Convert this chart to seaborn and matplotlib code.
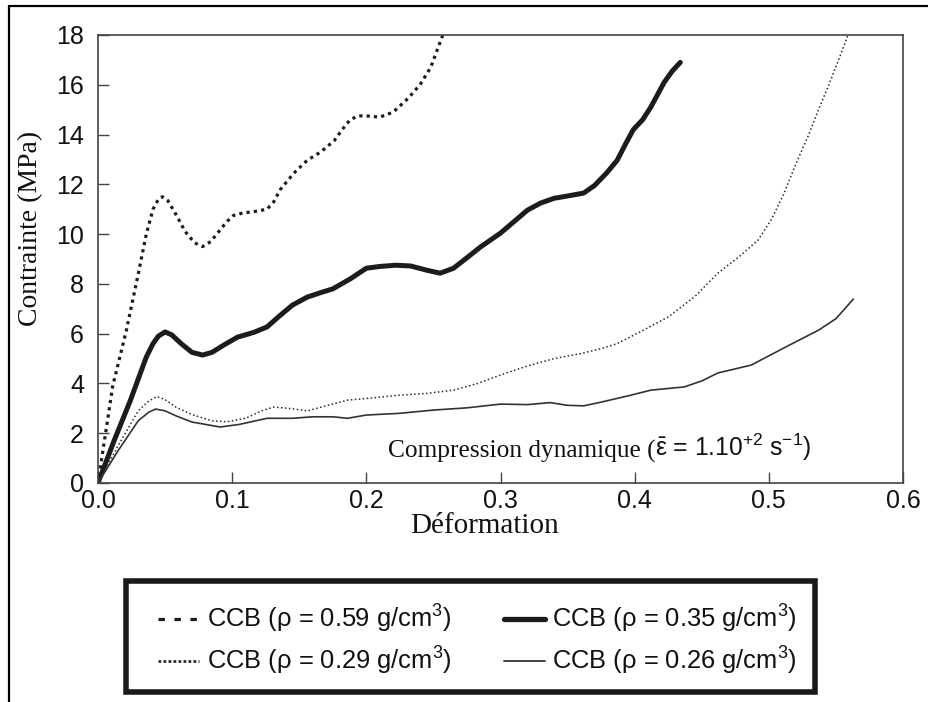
"""Stress-strain curves of CCB foams under dynamic compression."""

import matplotlib

matplotlib.use("Agg")

import matplotlib.pyplot as plt
import pandas as pd
import seaborn as sns
from matplotlib.lines import Line2D
from matplotlib.patches import Rectangle

# --- data ----------------------------------------------------------------
strain_059 = [0, 0.011, 0.021, 0.030, 0.036, 0.041, 0.045, 0.048, 0.052, 0.058,
              0.065, 0.072, 0.078, 0.084, 0.090, 0.096, 0.101, 0.108, 0.116,
              0.126, 0.131, 0.136, 0.146, 0.156, 0.166, 0.176, 0.182, 0.188,
              0.194, 0.200, 0.210, 0.220, 0.231, 0.240, 0.248, 0.257]
stress_059 = [0, 3.9, 6.1, 8.4, 10.0, 11.0, 11.4, 11.5, 11.35, 10.8,
              10.1, 9.65, 9.5, 9.7, 10.1, 10.5, 10.75, 10.85, 10.9,
              11.0, 11.3, 11.8, 12.45, 12.97, 13.3, 13.75, 14.2, 14.6,
              14.75, 14.75, 14.7, 14.9, 15.45, 16.0, 16.7, 18.0]

strain_035 = [0, 0.012, 0.024, 0.036, 0.041, 0.045, 0.050, 0.055, 0.062, 0.070,
              0.078, 0.085, 0.094, 0.104, 0.116, 0.126, 0.135, 0.145, 0.156,
              0.166, 0.175, 0.188, 0.200, 0.210, 0.222, 0.233, 0.245, 0.255,
              0.265, 0.275, 0.285, 0.300, 0.320, 0.330, 0.340, 0.352, 0.362,
              0.370, 0.379, 0.387, 0.393, 0.399, 0.406, 0.412, 0.422, 0.428,
              0.434]
stress_035 = [0, 1.7, 3.3, 5.06, 5.6, 5.9, 6.07, 5.95, 5.6, 5.25,
              5.14, 5.25, 5.55, 5.86, 6.05, 6.27, 6.7, 7.15, 7.47,
              7.65, 7.8, 8.2, 8.63, 8.7, 8.75, 8.72, 8.55, 8.43,
              8.63, 9.05, 9.48, 10.04, 10.96, 11.25, 11.44, 11.55, 11.65,
              11.95, 12.45, 12.97, 13.6, 14.2, 14.6, 15.1, 16.1, 16.55,
              16.9]

strain_029 = [0, 0.015, 0.030, 0.038, 0.044, 0.050, 0.058, 0.070, 0.085, 0.096,
              0.110, 0.122, 0.131, 0.142, 0.156, 0.170, 0.186, 0.205, 0.225,
              0.245, 0.265, 0.283, 0.300, 0.320, 0.340, 0.360, 0.375, 0.387,
              0.405, 0.425, 0.445, 0.462, 0.478, 0.492, 0.502, 0.511, 0.520,
              0.529, 0.537, 0.544, 0.552, 0.559]
stress_029 = [0, 1.5, 2.9, 3.3, 3.47, 3.35, 3.05, 2.75, 2.5, 2.46,
              2.6, 2.9, 3.05, 3.0, 2.9, 3.1, 3.33, 3.42, 3.53,
              3.6, 3.73, 4.0, 4.34, 4.7, 5.0, 5.2, 5.4, 5.6,
              6.1, 6.67, 7.5, 8.43, 9.1, 9.76, 10.6, 11.6, 12.8,
              13.9, 15.0, 15.9, 17.0, 18.0]

strain_026 = [0, 0.015, 0.030, 0.038, 0.043, 0.050, 0.058, 0.070, 0.091, 0.105,
              0.126, 0.145, 0.160, 0.175, 0.186, 0.200, 0.225, 0.250, 0.275,
              0.300, 0.320, 0.337, 0.350, 0.362, 0.375, 0.395, 0.412, 0.437,
              0.450, 0.462, 0.487, 0.511, 0.537, 0.550, 0.563]
stress_026 = [0, 1.3, 2.5, 2.85, 2.97, 2.9, 2.7, 2.45, 2.25, 2.35,
              2.6, 2.6, 2.66, 2.66, 2.6, 2.73, 2.8, 2.93, 3.02,
              3.17, 3.15, 3.23, 3.12, 3.1, 3.25, 3.5, 3.73, 3.86,
              4.1, 4.42, 4.74, 5.42, 6.14, 6.6, 7.39]

labels = [
    "CCB (ρ = 0.59 g/cm$^3$)",
    "CCB (ρ = 0.35 g/cm$^3$)",
    "CCB (ρ = 0.29 g/cm$^3$)",
    "CCB (ρ = 0.26 g/cm$^3$)",
]
x_ticks = [0.0, 0.1, 0.2, 0.3, 0.4, 0.5, 0.6]
y_ticks = [0, 2, 4, 6, 8, 10, 12, 14, 16, 18]

curves = [
    (strain_059, stress_059),
    (strain_035, stress_035),
    (strain_029, stress_029),
    (strain_026, stress_026),
]
# line look in the plot, and in the legend box
plot_styles = [
    dict(color="#1c1c1c", lw=2.3, ls=(0, (1.0, 1.3))),
    dict(color="#1c1c1c", lw=3.6, ls="-"),
    dict(color="#2a2a2a", lw=1.1, ls=(0, (1.0, 1.6))),
    dict(color="#333333", lw=1.2, ls="-"),
]
legend_styles = [
    dict(color="#1c1c1c", lw=2.3, ls=(0, (2.0, 3.0))),
    dict(color="#1c1c1c", lw=3.8, ls="-"),
    dict(color="#2a2a2a", lw=2.0, ls=(0, (1.0, 0.8))),
    dict(color="#333333", lw=1.3, ls="-"),
]

sns.set_style("ticks")
plt.rcParams["font.family"] = ["Liberation Sans", "DejaVu Sans"]
plt.rcParams["mathtext.fontset"] = "custom"
plt.rcParams["mathtext.rm"] = "Liberation Sans"
plt.rcParams["mathtext.it"] = "Liberation Sans:italic"
plt.rcParams["mathtext.bf"] = "Liberation Sans:bold"

SERIF = ["Liberation Serif", "DejaVu Serif"]
SPINE = "#444444"
INK = "#111111"

fig = plt.figure(figsize=(9.29, 7.02), dpi=100)
ax = fig.add_axes([98 / 929, 1 - 483 / 702, 805 / 929, 448 / 702])

for (xs, ys), style in zip(curves, plot_styles):
    frame = pd.DataFrame({"strain": xs, "stress": ys})
    sns.lineplot(data=frame, x="strain", y="stress", ax=ax, sort=False,
                 estimator=None, color=style["color"], linewidth=style["lw"],
                 linestyle=style["ls"], legend=False,
                 solid_joinstyle="round", solid_capstyle="round")

ax.set_xlim(0, 0.6)
ax.set_ylim(0, 18)
ax.set_xticks(x_ticks)
ax.set_xticklabels([f"{v:.1f}" for v in x_ticks])
ax.set_yticks(y_ticks)
ax.set_yticklabels([str(v) for v in y_ticks])
ax.tick_params(direction="in", length=8, width=1, color=SPINE,
               labelsize=18, labelcolor=INK)
ax.tick_params(axis="x", pad=4)
ax.tick_params(axis="y", pad=10)
for spine in ax.spines.values():
    spine.set_visible(True)
    spine.set_color(SPINE)
    spine.set_linewidth(1.2)

ax.set_xlabel("Déformation", family=SERIF, fontsize=21, color=INK)
ax.set_ylabel("Contrainte (MPa)", family=SERIF, fontsize=20, color=INK)
ax.xaxis.set_label_coords(0.48, -0.068)
ax.yaxis.set_label_coords(-0.068, 0.569)

# rate annotation: serif words followed by the sans formula
words = ax.text(0.36, 0.056, "Compression dynamique (", transform=ax.transAxes,
                family=SERIF, fontsize=18.3, va="baseline", ha="left", color=INK)
ax.annotate(r"$\bar{\mathrm{\varepsilon}}$ = 1.10$^{+2}$ s$^{-1}$)",
            xy=(1, 0), xycoords=words, va="bottom", ha="left",
            fontsize=17.7, color=INK)

# legend in its own heavy box under the axes
fig.add_artist(Rectangle((125.8 / 929, 1 - 692.2 / 702), 689.4 / 929, 111.4 / 702,
                         transform=fig.transFigure, fill=False,
                         edgecolor="#1a1a1a", linewidth=4))
handles = [Line2D([], [], color=s["color"], linewidth=s["lw"], linestyle=s["ls"])
           for s in legend_styles]
order = [0, 2, 1, 3]
leg = fig.legend([handles[i] for i in order], [labels[i] for i in order],
                 ncol=2, loc="center", mode="expand",
                 bbox_to_anchor=(158 / 929, 1 - 698.5 / 702, 639 / 929, 117 / 702),
                 fontsize=18.4, frameon=False, borderpad=0.0,
                 labelspacing=0.38, handlelength=1.6, handletextpad=0.3,
                 borderaxespad=0.0)
for text in leg.get_texts():
    text.set_color(INK)

# page frame visible at the top and left of the scan
fig.add_artist(Line2D([9 / 929, 9 / 929], [0, 1 - 6 / 702], transform=fig.transFigure,
                      color="black", linewidth=1.6))
fig.add_artist(Line2D([9 / 929, 1], [1 - 6 / 702, 1 - 6 / 702], transform=fig.transFigure,
                      color="black", linewidth=1.6))

fig.savefig("out.png", dpi=100)
